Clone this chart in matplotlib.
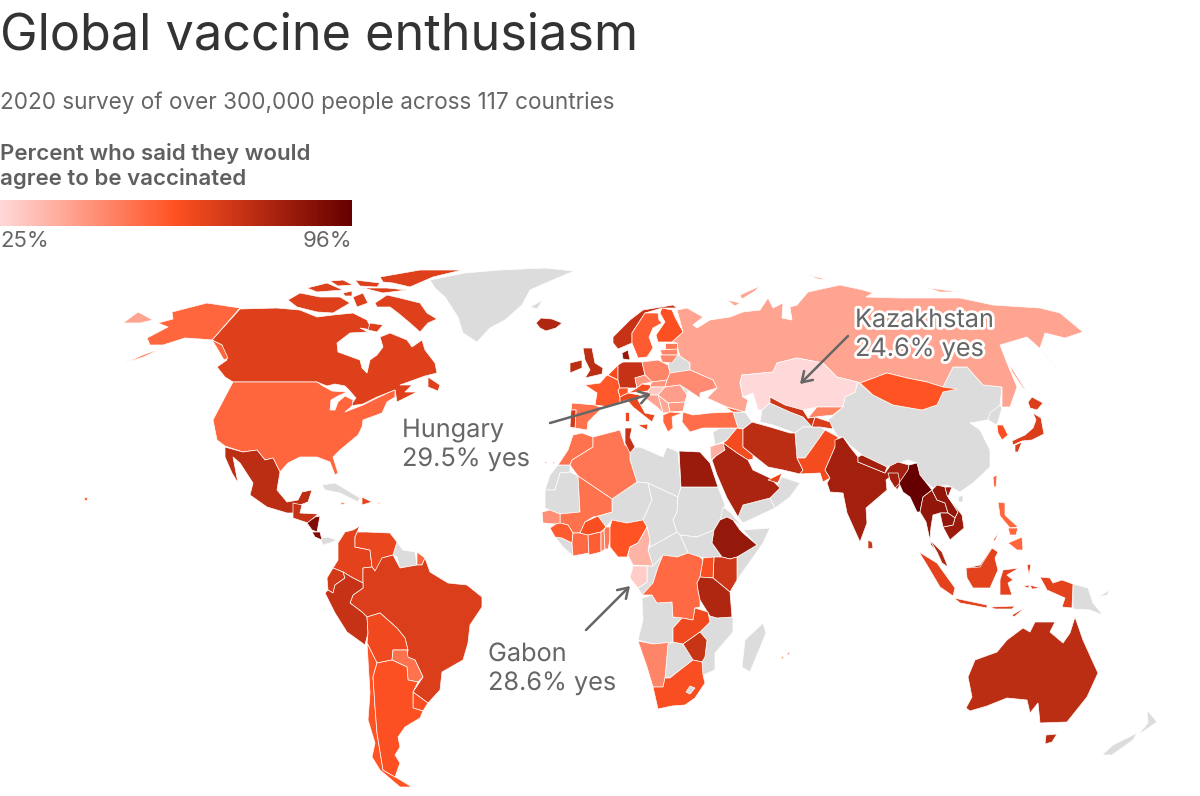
import numpy as np
import matplotlib
matplotlib.use("Agg")
import matplotlib.pyplot as plt
from matplotlib.colors import LinearSegmentedColormap, Normalize
from matplotlib.patches import Polygon
import matplotlib.patheffects as pe

# ==========================
# OUTLINES (map units)
# ==========================
GREENLAND = [[(430,280),(465,273),(500,270),(545,268),(574,271),(548,282),(530,290),(522,305),(505,320),(490,328),(477,342),(463,333),(458,317),(445,297),(435,288)]]
SVALBARD = [[(530,307),(543,300),(537,309)]]
CANADA = [[(240,309),(277,308),(300,310),(317,317),(333,315),(353,313),(367,320),(372,330),(360,328),(368,332),(350,333),(337,343),(338,352),(360,360),(362,368),(367,373),(370,360),(377,355),(383,347),(380,337),(390,333),(407,340),(412,347),(422,340),(425,350),(435,363),(437,373),(425,376),(400,385),(412,385),(405,392),(417,392),(397,402),(395,390),(377,397),(363,404),(350,406),(356,398),(349,390),(345,386),(335,384),(327,386),(317,382),(233,382),(225,377),(217,367),(227,360),(222,345),(212,340)],
          [(375,303),(387,295),(400,298),(420,303),(427,313),(437,319),(428,323),(420,332),(410,323),(398,313),(390,307),(377,307)],
          [(380,277),(420,270),(462,270),(433,277),(410,287),(393,283),(383,282)],
          [(288,300),(300,293),(320,297),(340,297),(350,303),(333,313),(317,312),(297,307)],
          [(307,288),(327,283),(343,290),(317,292)],
          [(353,297),(363,293),(368,303),(357,307)],
          [(363,288),(387,288),(407,290),(383,293)],
          [(370,323),(383,325),(377,332),(368,330)],
          [(428,377),(440,385),(438,391),(428,387)],
          [(330,281),(343,280),(353,285),(338,286)],
          [(355,280),(380,283),(377,287),(360,286)],
          [(343,293),(352,291),(352,296),(345,296)]]
USA = [[(233,382),(317,382),(323,386),(332,391),(347,392),(338,396),(331,400),(330,410),(335,410),(338,402),(345,396),(353,400),(352,406),(345,412),(363,405),(377,398),(390,392),(395,390),(395,397),(387,402),(382,413),(363,420),(362,427),(358,435),(340,450),(333,457),(338,473),(335,475),(330,462),(317,457),(300,457),(288,463),(280,472),(273,458),(265,460),(257,450),(243,452),(225,446),(217,440),(213,420),(225,397)],
       [(240,308),(207,303),(172,312),(173,319),(158,323),(168,327),(147,338),(150,345),(163,345),(185,338),(200,339),(212,340),(222,345),(228,358),(224,360),(217,348),(212,340)],
       [(125,363),(143,355),(165,347),(143,357)],
       [(84,497),(87,497),(87,500),(84,500)]]
MEXICO = [[(225,447),(243,452),(257,450),(265,460),(273,458),(280,472),(277,490),(287,502),(298,500),(302,492),(312,490),(308,502),(300,505),(293,513),(287,513),(267,507),(250,495),(253,483),(240,463),(233,457),(238,483),(232,473),(225,457)]]
GUAT_HOND = [[(293,503),(302,505),(300,513),(318,514),(308,523),(293,518)]]
NICARAGUA = [[(307,523),(315,517),(320,516),(317,532),(312,530)],[(312,532),(320,532),(322,540),(315,537)]]
PANAMA = [[(320,538),(328,537),(337,540),(330,543),(323,545)]]
CUBA = [[(322,485),(335,483),(360,498),(358,502),(340,493),(325,490)]]
DOMINICAN = [[(362,497),(372,502),(362,505)]]
SMALL_CARIB = [[(340,502),(346,503),(342,505)],[(377,502),(381,503),(378,504)]]
COLOMBIA = [[(360,526),(355,537),(355,547),(370,550),(372,567),(363,568),(363,583),(353,578),(343,572),(333,568),(338,560),(338,543),(345,532),(353,530)]]
VENEZUELA = [[(360,526),(358,532),(367,532),(390,533),(397,542),(393,555),(382,558),(382,568),(375,571),(372,567),(370,550),(355,547),(355,537)]]
GUYANAS = [[(397,542),(403,550),(415,552),(417,565),(405,567),(400,568),(397,557),(393,555)]]
FR_GUIANA = [[(417,552),(425,558),(422,565),(417,565)]]
BRAZIL = [[(382,558),(393,555),(400,568),(417,565),(422,565),(425,558),(430,572),(448,583),(467,585),(482,597),(482,607),(470,625),(468,643),(463,660),(442,672),(440,690),(428,703),(413,692),(423,677),(415,660),(407,657),(408,650),(405,638),(397,628),(380,613),(367,617),(362,612),(350,603),(353,595),(363,588),(363,568),(372,567),(375,571)]]
ECUADOR = [[(333,568),(343,572),(345,578),(335,585),(333,593),(328,590),(327,578)]]
PERU = [[(325,593),(328,590),(333,593),(335,585),(345,578),(343,572),(353,578),(363,583),(363,588),(353,595),(350,603),(362,612),(367,617),(368,633),(365,645),(347,632),(335,613)]]
BOLIVIA = [[(367,617),(380,613),(397,628),(405,638),(408,650),(393,650),(392,660),(377,663),(367,643),(368,633)]]
PARAGUAY = [[(393,650),(407,650),(408,657),(415,660),(423,677),(418,682),(408,680),(407,667),(392,660)]]
URUGUAY = [[(413,692),(428,703),(423,711),(413,708)]]
CHILE = [[(367,643),(377,663),(373,677),(375,707),(377,733),(383,770),(397,778),(412,787),(400,787),(380,770),(372,757),(375,743),(368,720),(370,693)]]
ARGENTINA = [[(377,663),(392,660),(407,667),(408,680),(418,682),(413,692),(413,708),(423,711),(420,718),(405,727),(398,737),(400,747),(395,755),(400,763),(395,777),(383,770),(377,733),(375,707),(373,677)]]

MOROCCO = [[(558,465),(568,450),(573,435),(582,433),(593,437),(593,447),(572,460),(570,465)]]
ALGERIA = [[(593,437),(620,430),(625,445),(630,448),(630,460),(637,482),(612,499),(578,476),(570,465),(572,460),(593,447)]]
TUNISIA = [[(625,428),(632,428),(630,437),(635,447),(630,453),(625,443)]]
LIBYA = [[(630,448),(640,447),(663,457),(667,447),(678,452),(681,487),(678,497),(648,483),(637,482),(630,460)]]
EGYPT = [[(679,451),(700,452),(710,463),(718,487),(681,487)]]
W_SAHARA = [[(558,465),(570,465),(570,472),(560,473),(555,490),(545,490),(550,475)]]
MAURITANIA = [[(555,490),(560,473),(570,472),(578,476),(580,512),(560,514),(550,510),(545,508),(545,490)]]
MALI = [[(578,476),(612,499),(612,512),(598,516),(593,517),(585,522),(580,533),(573,533),(568,525),(560,523),(560,514),(580,512)]]
SENEGAL = [[(542,512),(550,510),(560,514),(560,523),(556,524),(543,523)]]
GUINEA = [[(550,528),(556,524),(560,523),(568,525),(573,533),(572,543),(562,538),(555,537)]]
LIBERIA = [[(555,537),(562,538),(572,543),(573,556),(563,547)]]
IVORY = [[(572,543),(573,533),(580,533),(588,535),(589,553),(573,556)]]
BURKINA = [[(580,533),(585,522),(598,516),(606,527),(601,532),(588,535)]]
GHANA = [[(588,535),(601,532),(601,552),(589,555)]]
TOGO = [[(601,532),(604,530),(605,549),(601,552)]]
BENIN = [[(604,530),(606,527),(610,527),(610,540),(608,549),(605,549)]]
NIGERIA = [[(610,547),(610,527),(612,520),(627,523),(643,520),(647,527),(638,543),(630,547),(627,557),(618,557)]]
CAMEROON = [[(647,527),(650,540),(648,550),(653,566),(633,565),(628,555),(630,547),(638,543)]]
GABON = [[(630,578),(633,566),(647,566),(647,582),(638,588)]]
CONGO = [[(647,566),(653,566),(663,555),(658,567),(653,583),(642,595),(638,588),(647,582)]]
DRC = [[(663,555),(677,557),(688,553),(700,557),(703,560),(700,577),(697,583),(698,590),(700,600),(700,607),(695,608),(693,620),(682,618),(673,617),(672,602),(657,603),(652,595),(642,595),(653,583),(658,567)]]
NIGER = [[(612,499),(637,482),(648,483),(652,500),(643,520),(627,523),(612,520),(606,527),(598,516),(612,512)]]
CHAD = [[(648,483),(678,497),(677,512),(673,520),(677,532),(663,540),(650,547),(650,540),(647,527),(643,520),(652,500)]]
SUDAN = [[(681,487),(718,487),(725,505),(720,520),(714,530),(697,537),(680,535),(677,532),(673,520),(677,512),(678,497)]]
S_SUDAN = [[(680,535),(697,537),(714,530),(712,543),(722,557),(703,558),(700,557),(688,553)]]
CAR = [[(650,547),(663,540),(677,532),(680,535),(688,553),(677,557),(663,555),(653,566),(648,550)]]
ETHIOPIA = [[(720,520),(727,517),(733,520),(740,530),(743,533),(757,545),(737,557),(730,559),(722,557),(712,543),(714,530)]]
ERITREA = [[(723,507),(730,512),(743,527),(733,520),(727,517),(720,520)]]
SOMALIA = [[(743,530),(770,528),(763,543),(737,580),(737,557),(757,545)]]
KENYA = [[(714,557),(722,557),(730,559),(737,557),(737,580),(730,592),(713,578)]]
UGANDA = [[(703,560),(703,558),(714,557),(713,578),(700,577)]]
TANZANIA = [[(700,577),(713,578),(730,592),(732,617),(717,618),(710,616),(700,600),(698,590),(697,583)]]
ANGOLA = [[(642,598),(652,595),(657,603),(672,602),(673,617),(682,618),(673,628),(673,642),(653,644),(638,640),(643,620)]]
ZAMBIA = [[(673,628),(682,618),(693,620),(695,608),(708,612),(710,622),(700,632),(693,637),(683,644),(673,642)]]
MOZAMBIQUE = [[(708,612),(710,616),(717,618),(733,617),(733,632),(715,653),(715,670),(703,675),(702,662),(705,657),(707,640),(700,632),(710,622)]]
ZIMBABWE = [[(683,644),(693,637),(700,632),(707,640),(705,657),(702,662),(693,660)]]
BOTSWANA = [[(668,644),(673,642),(683,644),(693,660),(680,670),(670,678),(665,678)]]
NAMIBIA = [[(638,641),(653,644),(673,642),(668,644),(665,678),(663,687),(653,687),(647,667)]]
S_AFRICA = [[(653,687),(663,687),(665,678),(670,678),(680,670),(693,660),(702,662),(703,675),(705,683),(695,698),(685,705),(672,706),(658,709)]]
LESOTHO = [[(690,686),(695,688),(690,694),(686,692)]]
MADAGASCAR = [[(763,623),(766,633),(750,672),(742,667),(745,640)]]
MAURITIUS = [[(781,656),(783,656),(783,658),(781,658)],[(787,652),(789,652),(789,654),(787,654)],[(544,462),(547,462),(546,464)],[(552,462),(555,462),(554,464)]]

ICELAND = [[(536,323),(541,318),(552,319),(562,323),(556,328),(546,331),(540,328)]]
NORWAY = [[(613,337),(630,320),(643,310),(673,305),(677,308),(662,308),(645,313),(632,333),(632,343),(618,349),(613,343)]]
SWEDEN = [[(645,313),(658,313),(659,320),(662,323),(653,328),(649,337),(653,348),(647,357),(638,358),(632,343),(632,333)]]
FINLAND = [[(662,308),(672,310),(675,317),(683,332),(672,342),(658,342),(656,335),(665,322),(660,313)]]
ESTONIA = [[(665,343),(677,343),(677,349),(665,349)]]
LATVIA = [[(660,350),(677,349),(678,355),(662,355)]]
LITHUANIA = [[(660,355),(678,355),(672,363),(662,362)]]
BELARUS = [[(668,363),(678,355),(680,356),(690,363),(690,370),(670,373)]]
DENMARK = [[(622,353),(628,350),(630,360),(623,359)]]
UK = [[(583,348),(592,348),(595,363),(603,368),(602,374),(585,378),(590,370),(585,360)]]
IRELAND = [[(570,363),(582,360),(582,368),(570,373)]]
FRANCE = [[(585,385),(600,383),(607,375),(618,380),(620,388),(618,390),(620,397),(620,402),(610,407),(595,405),(597,393)]]
BENELUX = [[(608,375),(618,365),(618,380)]]
GERMANY = [[(618,365),(623,362),(642,362),(645,375),(635,378),(637,388),(620,388),(618,380)]]
POLAND = [[(642,362),(658,360),(668,365),(670,373),(667,380),(652,382),(645,375)]]
CZECHIA = [[(635,378),(645,375),(652,382),(642,384),(637,388)]]
SLOVAKIA = [[(652,382),(667,380),(665,387),(651,387),(650,385)]]
AUSTRIA = [[(637,388),(642,384),(650,385),(651,387),(648,391),(628,393)]]
SWISS = [[(618,390),(620,388),(628,388),(628,393),(620,397)]]
HUNGARY = [[(648,391),(651,387),(665,387),(658,395),(650,395)]]
UKRAINE = [[(667,380),(670,373),(690,370),(713,380),(717,388),(700,393),(700,398),(688,390),(680,385),(665,387)]]
ROMANIA = [[(665,387),(680,385),(687,395),(685,402),(668,403),(658,395)]]
MOLDOVA = [[(680,385),(688,390),(687,395)]]
BULGARIA = [[(668,403),(685,402),(683,411),(670,412)]]
SERBIA = [[(658,395),(668,403),(670,412),(663,413)]]
CROATIA = [[(640,395),(648,391),(650,395),(658,395),(663,413),(657,407),(645,398)]]
GREECE = [[(663,415),(670,412),(682,413),(672,417),(673,428),(668,432),(663,422)]]
ITALY = [[(620,397),(628,393),(640,395),(638,400),(645,413),(655,415),(652,422),(643,415),(633,407),(627,400),(620,402)],
         [(638,425),(648,424),(647,430)],[(625,412),(629,412),(629,421),(625,421)]]
SPAIN = [[(572,403),(595,405),(602,408),(588,422),(587,430),(575,428),(576,410),(571,410)]]
PORTUGAL = [[(571,410),(576,410),(575,428),(570,427)]]
TURKEY = [[(683,412),(693,415),(710,413),(733,412),(738,428),(720,428),(703,428),(690,432),(682,422)]]
GEORGIA = [[(725,407),(745,412),(733,412)]]
CAUCASUS = [[(733,412),(745,412),(752,422),(743,429),(738,428)]]
SYRIA = [[(713,432),(720,428),(737,428),(727,440),(715,445)]]
IRAQ = [[(737,428),(743,429),(743,447),(753,455),(753,459),(748,460),(737,453),(723,443),(727,440)]]
JORDAN = [[(710,447),(715,445),(723,443),(725,450),(716,456),(711,460)]]
SAUDI = [[(712,460),(716,456),(725,450),(723,443),(737,453),(748,460),(753,470),(770,478),(780,488),(770,498),(743,505),(738,517),(727,498),(717,475)]]
YEMEN = [[(743,505),(770,498),(775,508),(743,523),(738,517)]]
OMAN = [[(770,498),(782,477),(800,483),(790,497),(775,508)]]
UAE = [[(768,480),(782,473),(778,483)]]

RUSSIA = [[(677,310),(687,308),(703,317),(693,325),(697,328),(710,320),(730,317),(743,312),(760,310),(768,298),(773,308),(783,303),(782,318),(792,320),(790,307),(797,305),(808,292),(840,285),(863,290),(873,293),(866,297),(900,298),(960,298),(993,305),(1040,308),(1060,313),(1083,332),(1065,338),(1045,333),(1040,348),(1060,373),(1045,353),(1027,337),(1000,345),(1007,363),(1017,387),(1010,407),(1002,407),(1002,387),(983,385),(967,367),(953,367),(943,387),(927,382),(907,378),(887,373),(860,383),(837,377),(823,363),(797,358),(777,363),(773,372),(742,375),(740,383),(743,397),(748,400),(745,412),(727,407),(707,398),(717,388),(713,380),(690,370),(690,363),(680,356),(678,349),(677,343),(672,342),(683,332)],
          [(740,295),(760,286),(755,291),(742,299)],
          [(1010,365),(1027,392),(1023,388),(1012,372)],
          [(808,275),(830,280),(818,279)],
          [(928,288),(960,292),(940,292)],
          [(727,300),(740,303),(735,306)],
          [(123,323),(138,312),(153,320),(140,323)]]
KAZAKHSTAN = [[(742,375),(773,372),(777,363),(797,358),(823,363),(837,377),(858,382),(855,392),(845,397),(843,407),(817,407),(803,410),(785,405),(770,397),(770,403),(762,410),(758,410),(753,393),(743,397),(740,383)]]
IRAN = [[(743,429),(752,422),(770,427),(790,433),(795,433),(797,458),(803,470),(800,474),(783,470),(768,467),(753,455),(743,447)]]
UZBEKISTAN = [[(770,397),(785,405),(803,410),(808,418),(815,417),(812,427),(803,417),(790,412),(770,403)]]
TURKMENISTAN = [[(762,410),(770,403),(790,412),(803,417),(812,427),(803,427),(795,433),(773,425),(760,422)]]
TAJIKISTAN = [[(812,427),(815,417),(830,422),(833,429),(820,427)]]
KYRGYZSTAN = [[(817,407),(843,407),(833,415),(815,417),(808,418)]]
AFGHANISTAN = [[(795,433),(803,427),(812,427),(820,427),(825,430),(813,447),(805,458),(797,458)]]
PAKISTAN = [[(825,430),(838,437),(835,447),(825,470),(830,478),(823,482),(820,473),(800,474),(803,470),(797,458),(805,458),(813,447)]]
INDIA = [[(835,440),(843,437),(850,447),(858,457),(858,462),(885,473),(890,466),(898,462),(909,465),(908,473),(900,485),(897,490),(890,477),(886,480),(887,490),(866,508),(867,523),(860,542),(847,513),(843,493),(830,492),(827,483),(830,478),(825,470),(835,447)]]
NEPAL = [[(858,457),(862,455),(887,467),(885,473),(858,462)]]
BANGLADESH = [[(888,473),(898,473),(900,483),(895,488),(890,480)]]
SRI_LANKA = [[(868,540),(872,542),(873,548),(868,549)]]
MYANMAR = [[(908,470),(909,465),(917,463),(920,475),(932,490),(923,497),(920,512),(917,512),(910,497),(903,492),(899,483)]]
THAILAND = [[(923,497),(932,490),(937,500),(945,503),(948,513),(940,513),(933,515),(931,527),(930,540),(937,552),(931,545),(926,522),(920,512)]]
LAOS = [[(932,490),(937,485),(945,487),(947,495),(958,512),(955,518),(948,513),(945,503),(937,500)]]
VIETNAM = [[(945,487),(952,487),(948,497),(962,515),(964,528),(950,540),(943,527),(953,525),(955,518),(958,512),(947,495)]]
CAMBODIA = [[(940,513),(948,513),(955,518),(953,525),(943,527)]]
MALAYSIA = [[(930,540),(942,552),(948,567),(942,563),(937,552)],[(970,570),(980,568),(988,558),(995,557),(998,553),(992,548),(980,565),(967,568)]]
INDONESIA = [[(919,552),(937,563),(955,588),(953,596),(940,587),(927,565)],
             [(954,598),(987,605),(987,608),(960,603)],
             [(966,568),(980,567),(992,548),(998,552),(995,558),(998,570),(990,588),(973,588),(967,578)],
             [(1003,570),(1019,568),(1007,575),(1013,580),(1008,583),(1012,595),(1000,595),(1000,580)],
             [(1040,577),(1050,578),(1053,583),(1062,580),(1073,584),(1072,608),(1062,607),(1065,598),(1047,590)],
             [(990,607),(1015,606),(1012,609),(995,609)],[(1012,615),(1026,607),(1014,617)],
             [(1023,586),(1030,585),(1028,588)],[(1030,585),(1040,588),(1032,589)],[(1027,565),(1031,564),(1029,575)]]
PNG = [[(1073,584),(1088,588),(1093,603),(1103,615),(1090,610),(1073,609)],[(1098,597),(1110,590),(1112,587),(1107,595)]]
CHINA = [[(858,382),(873,395),(893,405),(922,410),(937,405),(943,387),(953,367),(967,367),(983,385),(1002,387),(1000,405),(987,420),(970,423),(980,430),(990,450),(990,467),(973,483),(960,492),(947,485),(933,488),(920,477),(917,463),(908,460),(887,467),(862,455),(850,445),(843,437),(838,437),(828,420),(843,407),(845,397),(855,392)]]
MONGOLIA = [[(860,383),(887,373),(907,378),(927,382),(943,387),(958,389),(943,392),(937,405),(922,410),(893,405),(873,395)]]
JAPAN = [[(1028,402),(1032,397),(1043,403),(1037,410),(1030,408)],
         [(1033,413),(1041,418),(1044,434),(1032,440),(1022,441),(1013,445),(1012,441),(1025,435),(1033,428),(1036,420)],
         [(1015,445),(1022,442),(1018,452),(1015,452)]]
S_KOREA = [[(997,425),(1003,425),(1008,435),(1002,440),(998,433)]]
N_KOREA = [[(990,413),(1000,405),(1002,408),(997,425),(988,420)]]
TAIWAN = [[(993,477),(997,475),(996,487),(994,487)]]
HAINAN = [[(958,497),(963,495),(963,502),(959,502)]]
PHILIPPINES = [[(998,502),(1005,503),(1005,515),(1018,527),(1010,528),(1000,516)],
               [(1008,543),(1022,537),(1023,550),(1017,550)],
               [(1008,528),(1018,528),(1016,535),(1010,535)],
               [(993,540),(999,532),(995,541)]]
AUSTRALIA = [[(966,708),(972,697),(968,677),(975,660),(997,652),(1007,640),(1023,628),(1030,632),(1035,622),(1055,622),(1050,632),(1063,643),(1070,633),(1075,617),(1083,640),(1092,660),(1098,673),(1087,697),(1067,722),(1040,723),(1038,703),(1030,713),(1027,700),(1007,698),(987,706),(970,711)],
             [(1046,735),(1057,734),(1052,742),(1045,744)]]
NZ = [[(1102,755),(1113,745),(1137,733),(1133,740),(1112,755)],[(1138,735),(1148,723),(1147,710),(1157,722)]]

# ==========================
# DATA (percent yes)
# ==========================
no_data_shapes = [GREENLAND, SVALBARD, CUBA, PANAMA, GUYANAS, LIBYA, W_SAHARA, MAURITANIA, LIBERIA, CONGO, NIGER, CHAD,
                  SUDAN, S_SUDAN, CAR, ERITREA, SOMALIA, ANGOLA, MOZAMBIQUE, BOTSWANA, MADAGASCAR, BELARUS,
                  MOLDOVA, CAUCASUS, SYRIA, YEMEN, OMAN, TURKMENISTAN, AFGHANISTAN, PNG, CHINA, N_KOREA, HAINAN, NZ]

country_shapes = [RUSSIA, CANADA, USA, MEXICO, GUAT_HOND, NICARAGUA, DOMINICAN, SMALL_CARIB,
                  COLOMBIA, VENEZUELA, FR_GUIANA, BRAZIL, ECUADOR, PERU, BOLIVIA, PARAGUAY, URUGUAY, CHILE, ARGENTINA,
                  MOROCCO, ALGERIA, TUNISIA, EGYPT, MALI, SENEGAL, GUINEA, IVORY, BURKINA, GHANA, TOGO, BENIN, NIGERIA,
                  CAMEROON, GABON, DRC, ETHIOPIA, KENYA, UGANDA, TANZANIA, ZAMBIA, ZIMBABWE, NAMIBIA, S_AFRICA, MAURITIUS,
                  ICELAND, NORWAY, SWEDEN, FINLAND, ESTONIA, LATVIA, LITHUANIA, DENMARK, UK, IRELAND, FRANCE, BENELUX,
                  GERMANY, POLAND, CZECHIA, SLOVAKIA, AUSTRIA, SWISS, HUNGARY, UKRAINE, ROMANIA, BULGARIA, SERBIA, CROATIA,
                  GREECE, ITALY, SPAIN, PORTUGAL, TURKEY, GEORGIA, IRAQ, JORDAN, SAUDI, UAE,
                  KAZAKHSTAN, IRAN, UZBEKISTAN, TAJIKISTAN, KYRGYZSTAN, PAKISTAN, INDIA, NEPAL, BANGLADESH, SRI_LANKA,
                  MYANMAR, THAILAND, LAOS, VIETNAM, CAMBODIA, MALAYSIA, INDONESIA, MONGOLIA, JAPAN, S_KOREA, TAIWAN,
                  PHILIPPINES, AUSTRALIA]
country_pct = [39, 68, 55, 76, 74, 90, 66, 48,
               67, 65, 55, 69, 71, 74, 64, 52, 62, 60, 61,
               52, 51, 74, 84, 52, 44, 58, 54, 62, 57, 48, 50, 60,
               35, 28.6, 54, 85, 72, 62, 79, 64, 73, 47, 62, 48,
               79, 74, 58, 61, 50, 47, 46, 85, 76, 76, 59, 63,
               74, 47, 42, 43, 62, 60, 29.5, 45, 40, 42, 38, 39,
               55, 65, 52, 71, 53, 60, 63, 36, 80, 66,
               24.6, 76, 72, 69, 48, 63, 82, 82, 82, 72,
               96, 86, 86, 84, 86, 79, 67, 60, 69, 62, 55,
               55, 76]

legend_ticks = ["25%", "96%"]
vmin, vmax = 25, 96

callout_names = ["Kazakhstan\n24.6% yes", "Hungary\n29.5% yes", "Gabon\n28.6% yes"]
callout_text_xy = [(855, 335), (402, 445), (488, 669)]
callout_arrow_from = [(848, 336), (550, 423), (586, 630)]
callout_arrow_to = [(800, 384), (651, 394), (630, 586)]

# ==========================
# STYLE
# ==========================
GREY = "#dcdcdc"
cmap = LinearSegmentedColormap.from_list("vax", ["#ffd9d9", "#ff5122", "#660000"])
norm = Normalize(vmin, vmax)
plt.rcParams["font.family"] = ["Inter", "DejaVu Sans"]

fig = plt.figure(figsize=(12, 7.96), dpi=100)
ax = fig.add_axes([0, 0, 1, 1])
ax.set_xlim(0, 1200)
ax.set_ylim(796, 0)
ax.axis("off")

# ==========================
# MAP
# ==========================
def draw_shape(shape, color):
    for ring in shape:
        ax.add_patch(Polygon(ring, closed=True, facecolor=color, edgecolor="white", linewidth=0.5, joinstyle="round"))

for shape in no_data_shapes:
    draw_shape(shape, GREY)
for shape, pct in zip(country_shapes, country_pct):
    draw_shape(shape, cmap(norm(pct)))
draw_shape(LESOTHO, GREY)

# ==========================
# TITLE, LEGEND
# ==========================
ax.text(0, 50, "Global vaccine enthusiasm", fontsize=36.3, color="#333333", va="baseline")
ax.text(0, 109, "2020 survey of over 300,000 people across 117 countries", fontsize=16.2, color="#666666", va="baseline")
ax.text(0, 160, "Percent who said they would", fontsize=16, color="#5f5f5f", fontweight="semibold", va="baseline")
ax.text(0, 185, "agree to be vaccinated", fontsize=16, color="#5f5f5f", fontweight="semibold", va="baseline")

cax = fig.add_axes([0, 1 - 226 / 796, 352 / 1200, 26 / 796])
cax.imshow(np.linspace(vmin, vmax, 256)[None, :], aspect="auto", cmap=cmap, norm=norm)
cax.axis("off")
ax.text(0, 247, legend_ticks[0], fontsize=16, color="#666666", va="baseline")
ax.text(352, 247, legend_ticks[1], fontsize=16, color="#666666", va="baseline", ha="right")

# ==========================
# CALLOUTS
# ==========================
for i in range(3):
    ax.annotate("", xy=callout_arrow_to[i], xytext=callout_arrow_from[i],
                arrowprops=dict(arrowstyle="->,head_length=0.7,head_width=0.45", color="#666666", lw=1.8,
                                shrinkA=0, shrinkB=0))
    t = ax.text(callout_text_xy[i][0], callout_text_xy[i][1], callout_names[i], fontsize=18.2, color="#666666",
                va="center", ha="left", linespacing=1.33)
    t.set_path_effects([pe.withStroke(linewidth=4, foreground="white")])

fig.savefig("out.png", dpi=100)
